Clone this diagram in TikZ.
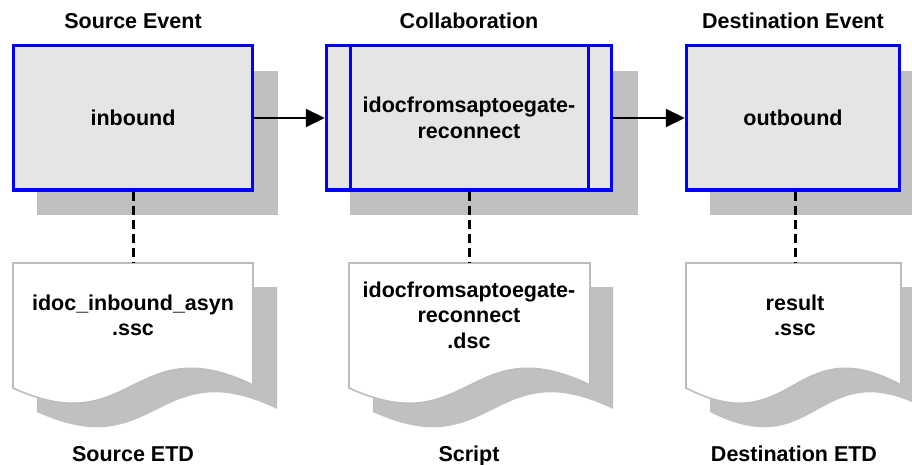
\documentclass[tikz,border=0pt]{standalone}
\usepackage{fontspec}
\setmainfont{Liberation Sans}
\usetikzlibrary{arrows.meta}
\definecolor{boxfill}{HTML}{E5E5E5}
\definecolor{shadowc}{HTML}{C0C0C0}
\definecolor{docline}{HTML}{BDBDBD}
\definecolor{bblue}{HTML}{0000FF}
% #1 x0, #2 y0, #3 width, #4 path options
\newcommand\docshape[4]{%
  \path[#4] (#1,#2) -- ({#1+#3},#2) -- ({#1+#3},{#2+122})
    .. controls ({#1+0.5*#3},{#2+64}) and ({#1+0.5*#3},{#2+180}) .. (#1,{#2+125}) -- cycle;}
\tikzset{
  txt/.style={font=\bfseries\fontsize{21.5}{25.5}\selectfont, inner sep=0pt, align=center},
  evbox/.style={draw=bblue, line width=3pt, fill=boxfill, inner sep=0pt, minimum height=144pt,
    txt},
  docshadow/.style={fill=shadowc},
  docbody/.style={fill=white, draw=docline, line width=1.6pt},
  flow/.style={line width=2.2pt, -{Triangle[length=19pt,width=18pt]}},
  link/.style={line width=3pt, dash pattern=on 9pt off 5pt},
}
\begin{document}
\begin{tikzpicture}[x=1pt, y=-1pt]
\clip (0,0) rectangle (912,465);
% box shadows
\fill[shadowc] (37,71) rectangle (278,215);
\fill[shadowc] (350,71) rectangle (638,215);
\fill[shadowc] (710,71) rectangle (930,215);
% document shadows
\docshape{37}{287}{240}{docshadow}
\docshape{373}{287}{240}{docshadow}
\docshape{710}{287}{216}{docshadow}
% documents
\docshape{13}{263}{240}{docbody}
\docshape{349}{263}{241}{docbody}
\docshape{686}{263}{215}{docbody}
\coordinate (d1) at (133,262);
\coordinate (d2) at (469,262);
\coordinate (d3) at (795,262);
% event boxes
\node[evbox, minimum width=239pt] (b1) at (133,118) {inbound};
\node[evbox, minimum width=285.5pt] (b2) at (469,118) {idocfromsaptoegate-\\reconnect};
\node[evbox, minimum width=213.5pt] (b3) at (793,118) {outbound};
\draw[bblue, line width=3pt] (350,46) -- (350,190);
\draw[bblue, line width=3pt] (588.5,46) -- (588.5,190);
% titles
\node[txt, anchor=base] (t1) at (133,29) {Source Event};
\node[txt, anchor=base] (t2) at (469,29) {Collaboration};
\node[txt, anchor=base] (t3) at (793,29) {Destination Event};
% document texts (base = last line)
\node[txt, anchor=base] (s1) at (133,335.5) {idoc\_inbound\_asyn\\.ssc};
\node[txt, anchor=base] (s2) at (469,348) {idocfromsaptoegate-\\reconnect\\.dsc};
\node[txt, anchor=base] (s3) at (795,335.5) {result\\.ssc};
% bottom labels
\node[txt, anchor=base] (l1) at (133,461) {Source ETD};
\node[txt, anchor=base] (l2) at (469,461) {Script};
\node[txt, anchor=base] (l3) at (794,461) {Destination ETD};
% connectors
\draw[flow] (b1.east) -- (b2.west);
\draw[flow] (b2.east) -- (b3.west);
\draw[link] (b1.south -| d1) -- (d1);
\draw[link] (b2.south -| d2) -- (d2);
\draw[link] (b3.south -| d3) -- (d3);
\end{tikzpicture}
\end{document}
